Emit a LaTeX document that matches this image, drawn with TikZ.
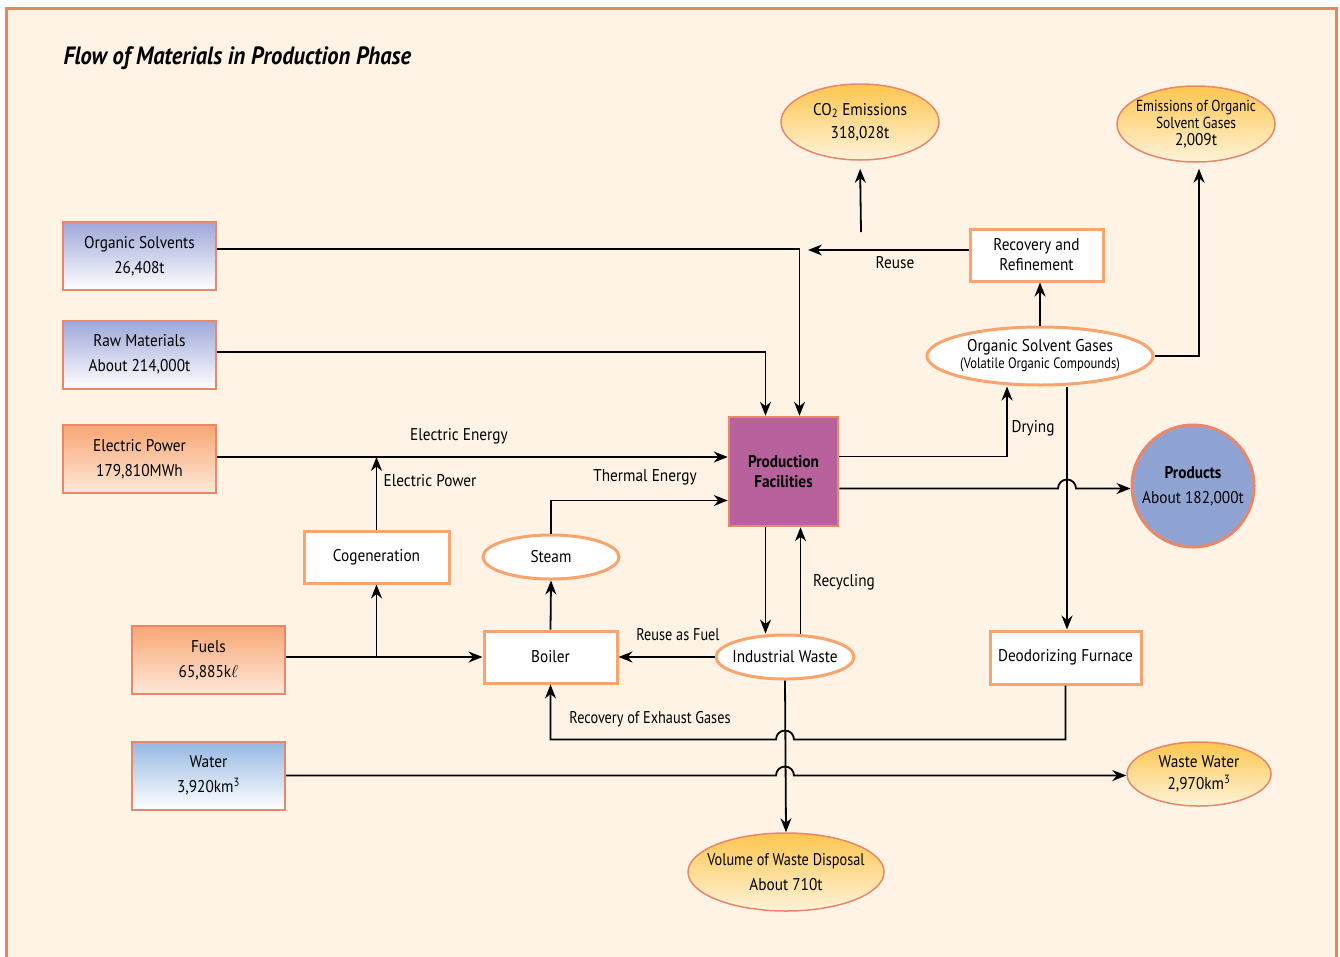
\documentclass[tikz,border=0pt]{standalone}
\usepackage{fontspec}
\setmainfont{PT Sans}[FakeStretch=0.9]
\newfontfamily\condfont{PT Sans}[FakeStretch=0.84]
\usetikzlibrary{arrows.meta, calc, shapes.geometric}

\definecolor{framecol}{HTML}{E3875F}
\definecolor{paper}{HTML}{FEF3E5}
\definecolor{edgeorange}{HTML}{F8A46C}
\definecolor{boxedge}{HTML}{E8876A}
\definecolor{lilac}{HTML}{9EA7D8}
\definecolor{skyblue}{HTML}{95B7E2}
\definecolor{peach}{HTML}{F8A674}
\definecolor{peachlight}{HTML}{FDE9DA}
\definecolor{sun}{HTML}{FDC64F}
\definecolor{sunlight}{HTML}{FEF3DA}
\definecolor{plum}{HTML}{B7629D}
\definecolor{prodblue}{HTML}{90A4D4}

\begin{document}
\begin{tikzpicture}[x=1pt, y=-1pt, >=Stealth,
		font=\fontsize{17}{25}\selectfont,
		source/.style={draw=boxedge, line width=2pt, minimum width=153, minimum height=68, align=center, inner sep=0pt},
		process/.style={draw=edgeorange, line width=3pt, fill=white, minimum height=52, align=center, inner sep=0pt},
		outlet/.style={ellipse, draw=boxedge, line width=1.5pt, top color=sun, bottom color=sunlight, inner xsep=-16pt, inner ysep=-6pt, align=center},
		inner/.style={ellipse, draw=edgeorange, line width=3pt, fill=white, inner xsep=-16pt, inner ysep=-6pt, align=center},
		flow/.style={-{Stealth[length=14pt, width=11pt]}, line width=1.8pt},
		lbl/.style={inner sep=1pt}]
			
			\useasboundingbox (0,0) rectangle (1340,956);
			
			% Frame and title
			\draw[framecol, line width=3pt, fill=paper] (6,8) rectangle (1336,990);
			\node[anchor=west, font=\fontsize{25}{30}\selectfont\bfseries\itshape] (title) at (60,58) {Flow of Materials in Production Phase};
			
			% Inputs
			\node[source, top color=lilac, bottom color=white] (os) at (139.5,256) {Organic Solvents\\26,408t};
			\node[source, top color=lilac, bottom color=white] (rm) at (139.5,354.5) {Raw Materials\\About 214,000t};
			\node[source, top color=peach, bottom color=peachlight] (ep) at (139.5,459) {Electric Power\\179,810MWh};
			\node[source, top color=peach, bottom color=peachlight] (fuel) at (208.5,660) {Fuels\\65,885k$\ell$};
			\node[source, top color=skyblue, bottom color=white] (water) at (208.5,775.5) {Water\\3,920km\textsuperscript{3}};
			
			% Production facilities and products
			\node[draw=boxedge, line width=2.5pt, fill=plum, minimum width=109, minimum height=109, align=center, font=\fontsize{17}{20}\selectfont\bfseries] (pf) at (783.5,471.5) {Production\\Facilities};
			\node[circle, draw=boxedge, line width=3pt, fill=prodblue, minimum size=122, inner sep=0pt, align=center] (prod) at (1193,486) {\textbf{Products}\\About 182,000t};
			
			% Outlets
			\node[outlet, minimum width=158, minimum height=76, font=\fontsize{17}{23}\selectfont] (co2) at (860,122) {CO\textsubscript{2} Emissions\\318,028t};
			\node[outlet, minimum width=158, minimum height=76, font=\fontsize{16}{17}\condfont] (eos) at (1196,124) {Emissions of Organic\\Solvent Gases\\{\fontsize{17}{17}\rmfamily 2,009t}};
			\node[outlet, minimum width=144, minimum height=64, font=\fontsize{17}{22}\selectfont] (ww) at (1199,774) {Waste Water\\2,970km\textsuperscript{3}};
			\node[outlet, minimum width=196, minimum height=78] (wd) at (786,872) {{\condfont Volume of Waste Disposal}\\About 710t};
			
			% Processes
			\node[process, minimum width=133, font=\fontsize{17}{20}\selectfont] (rr) at (1036.5,255) {Recovery and\\Refinement};
			\node[inner, minimum width=226, minimum height=58, font=\fontsize{17}{17}\selectfont] (osg) at (1040,356) {Organic Solvent Gases\\{\fontsize{15}{15}\condfont (Volatile Organic Compounds)}};
			\node[process, minimum width=145] (cogen) at (376.5,557) {Cogeneration};
			\node[inner, minimum width=136, minimum height=44] (steam) at (551,557) {Steam};
			\node[process, minimum width=133] (boiler) at (550.5,657) {Boiler};
			\node[inner, minimum width=138, minimum height=44] (iw) at (785,657) {Industrial Waste};
			\node[process, minimum width=151, minimum height=53] (df) at (1065.5,657.5) {Deodorizing Furnace};
			
			% Helper points
			\coordinate (reuse) at (808,250);
			\coordinate (co2base) at (861,232);
			\coordinate (dry) at ([xshift=-33pt]osg.south);
			\coordinate (deo) at ([xshift=27pt]osg.south);
			\coordinate (pfdown) at ([xshift=-18pt]pf.south);
			\coordinate (pfup) at ([xshift=17pt]pf.south);
			\coordinate (toprod) at ([yshift=-17pt]pf.east);
			\coordinate (exhaust) at ($(df.south)+(0,54)$);
			
			% Material inputs
			\draw[flow] ([yshift=7pt]os.east) -| ([xshift=16pt]pf.north);
			\draw[flow] ([yshift=2.5pt]rm.east) -| ([xshift=-18pt]pf.north);
			\draw[flow] (rr.west |- reuse) -- (reuse);
			\draw[flow, shorten >=8pt] (co2base) -- (co2.south);
			
			% Energy
			\draw[flow] ([yshift=2pt]ep.east) -- ([yshift=2pt]ep.east -| pf.west);
			\draw[flow] (cogen.north) -- ([yshift=2pt]cogen.north |- ep.east);
			\draw[flow] (steam.north) |- ([yshift=-29pt]pf.west);
			\draw[flow] (fuel.east |- boiler.west) -- (boiler.west);
			\draw[flow] (cogen.south |- boiler.west) -- (cogen.south);
			\draw[flow] (boiler.north) -- (steam.south);
			
			% Solvent gases
			\draw[flow] ([yshift=15pt]pf.east) -| (dry);
			\draw[flow] (osg.north) -- (osg.north |- rr.south);
			\draw[flow, shorten >=6pt] (osg.east) -| ([xshift=3pt]eos.south);
			\draw[flow] (deo) -- (deo |- df.north);
			
			% Products (hop over furnace line)
			\draw[flow] (toprod) -- ($(toprod -| deo)+(-9,0)$) arc[start angle=180, end angle=360, radius=9] -- (toprod -| prod.west);
			
			% Waste
			\draw[flow] (pfdown) -- (pfdown |- iw.north);
			\draw[flow] (pfup |- iw.north) -- (pfup);
			\draw[flow] (iw.west) -- (boiler.east);
			\draw[flow] (iw.south) -- (wd.north);
			\draw[flow] (df.south) -- (exhaust) -- ($(exhaust -| iw.south)+(9,0)$) arc[start angle=0, end angle=-180, radius=9] -- (exhaust -| boiler.south) -- (boiler.south);
			\draw[flow] (water.east) -- ($(water.east -| iw.south)+(-9,0)$) arc[start angle=180, end angle=360, radius=9] -- (water.east -| ww.west);
			
			% Labels
			\node[lbl] (lee) at (459,436) {Electric Energy};
			\node[lbl] (lep) at (430,481) {Electric Power};
			\node[lbl] (lte) at (645,477) {Thermal Energy};
			\node[lbl] (lre) at (895,263) {Reuse};
			\node[lbl] (ldr) at (1033,428) {Drying};
			\node[lbl] (lrc) at (844,582) {Recycling};
			\node[lbl, font=\fontsize{17}{17}\condfont] (lrf) at (678,635) {Reuse as Fuel};
			\node[lbl, font=\fontsize{17}{17}\condfont] (lrx) at (650,719) {Recovery of Exhaust Gases};
			
		\end{tikzpicture}
\end{document}
